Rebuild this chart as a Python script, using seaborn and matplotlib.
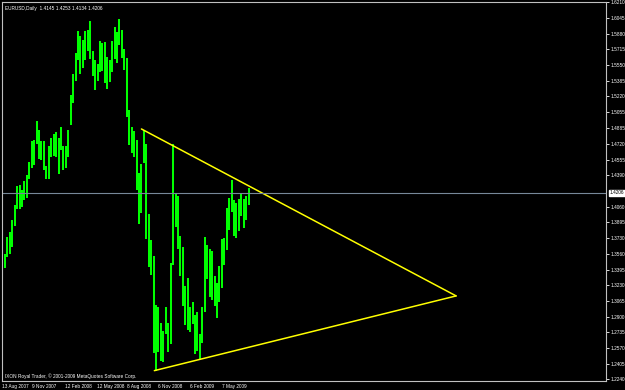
import matplotlib
matplotlib.use("Agg")
import matplotlib.pyplot as plt
import matplotlib.transforms as mtransforms
import seaborn as sns
import pandas as pd
import numpy as np

# ---- data (weekly high / low of EURUSD) ----
week_high = [1.3735, 1.3560, 1.3740, 1.3790, 1.3920, 1.4080, 1.4280, 1.4290, 1.4240, 1.4330,
             1.4390, 1.4530, 1.4750, 1.4760, 1.4967, 1.4870, 1.4750, 1.4750, 1.4490, 1.4700,
             1.4780, 1.4830, 1.4850, 1.4780, 1.4900, 1.4700, 1.4700, 1.4870, 1.5240, 1.5460,
             1.5680, 1.5905, 1.5860, 1.5820, 1.5910, 1.5920, 1.6019, 1.5700, 1.5600, 1.5560,
             1.5800, 1.5780, 1.5790, 1.5640, 1.5600, 1.5800, 1.5950, 1.5900, 1.6038, 1.5920,
             1.5720, 1.5630, 1.5080, 1.4900, 1.4860, 1.4760, 1.4410, 1.4510, 1.4867, 1.4720,
             1.3980, 1.3710, 1.3540, 1.3020, 1.3000, 1.2830, 1.2750, 1.3000, 1.2830, 1.3470,
             1.4719, 1.4200, 1.4170, 1.3750, 1.3640, 1.3220, 1.3310, 1.3000, 1.3060, 1.2920,
             1.2950, 1.2720, 1.3000, 1.3738, 1.3660, 1.3610, 1.3590, 1.3330, 1.3260, 1.3430,
             1.3720, 1.3730, 1.4050, 1.4150, 1.4340, 1.4130, 1.4100, 1.4140, 1.4190, 1.4140,
             1.4170, 1.4253]
week_low = [1.3320, 1.3410, 1.3530, 1.3560, 1.3640, 1.3860, 1.4040, 1.4040, 1.4060, 1.4130,
            1.4150, 1.4350, 1.4470, 1.4500, 1.4720, 1.4560, 1.4550, 1.4450, 1.4350, 1.4350,
            1.4580, 1.4590, 1.4580, 1.4400, 1.4660, 1.4450, 1.4470, 1.4580, 1.4920, 1.5150,
            1.5380, 1.5600, 1.5460, 1.5520, 1.5600, 1.5700, 1.5610, 1.5440, 1.5290, 1.5380,
            1.5480, 1.5490, 1.5360, 1.5300, 1.5370, 1.5480, 1.5620, 1.5570, 1.5760, 1.5630,
            1.5500, 1.5000, 1.4710, 1.4620, 1.4580, 1.4240, 1.3880, 1.3990, 1.4520, 1.3720,
            1.3420, 1.3340, 1.2520, 1.2330, 1.2530, 1.2430, 1.2420, 1.2720, 1.2530, 1.2610,
            1.3450, 1.3850, 1.3610, 1.3330, 1.3010, 1.2810, 1.2760, 1.2740, 1.2820, 1.2510,
            1.2540, 1.2457, 1.2620, 1.2950, 1.3300, 1.3110, 1.3080, 1.3010, 1.2886, 1.3060,
            1.3200, 1.3450, 1.3600, 1.3810, 1.4000, 1.3750, 1.3730, 1.3800, 1.3960, 1.3830,
            1.3920, 1.4080]

price_ticks = [1.6210, 1.6045, 1.5880, 1.5715, 1.5550, 1.5385, 1.5220, 1.5055, 1.4885,
               1.4720, 1.4555, 1.4390, 1.4060, 1.3895, 1.3730, 1.3560, 1.3395, 1.3230,
               1.3065, 1.2900, 1.2735, 1.2570, 1.2405, 1.2240]
date_labels = ["13 Aug 2007", "9 Nov 2007", "12 Feb 2008", "12 May 2008",
               "8 Aug 2008", "6 Nov 2008", "6 Feb 2009", "7 May 2009"]
date_weeks = [0.3, 12.6, 26.2, 39.1, 51.6, 64.4, 77.6, 90.6]

bid_price = 1.4206
title_text = "EURUSD,Daily  1.4145 1.4253 1.4134 1.4206"
footer_text = "IXON Royal Trader, \u00a9 2001-2009 MetaQuotes Software Corp."

# triangle trend lines (week index, price)
tri_week = [57.5, 186.6, 62.8, 186.6]
tri_price = [1.4878, 1.3120, 1.2333, 1.3120]
tri_name = ["upper", "upper", "lower", "lower"]

# ---- style ----
sns.set_theme(style="dark", rc={
    "axes.facecolor": "black",
    "figure.facecolor": "black",
    "axes.edgecolor": "#C0C0C0",
    "text.color": "white",
    "xtick.color": "white",
    "ytick.color": "white",
    "axes.grid": False,
})
plt.rcParams["font.family"] = ["Liberation Sans", "DejaVu Sans"]

W, H = 625, 390
FS = 3.4
fig = plt.figure(figsize=(W / 100, H / 100), dpi=100)
ax = fig.add_axes([2 / W, 1 - 381 / H, 604 / W, 379 / H])
ax.set_facecolor("black")

weeks = np.arange(len(week_high)) + 0.5
ax.vlines(weeks, week_low, week_high, color="#00FF00", linewidth=1.45)

tri = pd.DataFrame({"week": tri_week, "price": tri_price, "line": tri_name})
sns.lineplot(data=tri, x="week", y="price", units="line", estimator=None,
             sort=False, color="#FFFF00", linewidth=1.1, ax=ax, legend=False)

ax.axhline(bid_price, color="#778899", linewidth=0.8)

ax.set_xlim(0.545, 248.1)
ax.set_ylim(1.2224, 1.6215)
ax.set_xlabel("")
ax.set_ylabel("")

# right price axis
ax.yaxis.tick_right()
ax.set_yticks(price_ticks)
ax.set_yticklabels([f"{v:.4f}" for v in price_ticks], fontsize=FS)
ax.tick_params(axis="y", direction="out", length=2, width=0.6, pad=1.0, colors="white")

# bottom date axis
ax.set_xticks(date_weeks)
ax.set_xticklabels(date_labels, fontsize=FS)
for lab in ax.get_xticklabels():
    lab.set_horizontalalignment("left")
ax.tick_params(axis="x", direction="out", length=1.5, width=0.6, pad=0.6, colors="white")

for s in ax.spines.values():
    s.set_color("#C0C0C0")
    s.set_linewidth(0.8)

# bid price label
trans = mtransforms.blended_transform_factory(ax.transAxes, ax.transData)
ax.text(1.006, bid_price, f"{bid_price:.4f}", transform=trans, fontsize=FS,
        color="black", va="center", ha="left",
        bbox=dict(boxstyle="square,pad=0.15", facecolor="white", edgecolor="white"))

ax.text(3 / 604, 1 - 4 / 379, title_text, transform=ax.transAxes, fontsize=FS,
        color="white", va="top", ha="left")
ax.text(3 / 604, 5 / 379, footer_text, transform=ax.transAxes, fontsize=FS,
        color="white", va="center", ha="left")

fig.savefig("out.png", dpi=100, facecolor="black")
